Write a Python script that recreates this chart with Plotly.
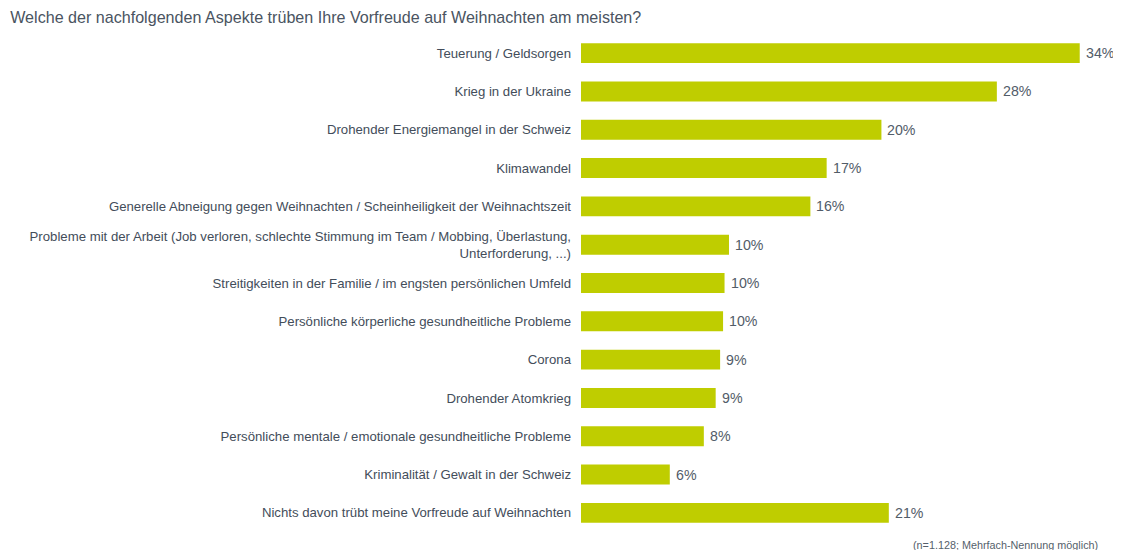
import plotly.graph_objects as go

# Anteile in %
aspekte = [
    "Teuerung / Geldsorgen",
    "Krieg in der Ukraine",
    "Drohender Energiemangel in der Schweiz",
    "Klimawandel",
    "Generelle Abneigung gegen Weihnachten / Scheinheiligkeit der Weihnachtszeit",
    "Probleme mit der Arbeit (Job verloren, schlechte Stimmung im Team / Mobbing, Überlastung,<br>Unterforderung, ...)",
    "Streitigkeiten in der Familie / im engsten persönlichen Umfeld",
    "Persönliche körperliche gesundheitliche Probleme",
    "Corona",
    "Drohender Atomkrieg",
    "Persönliche mentale / emotionale gesundheitliche Probleme",
    "Kriminalität / Gewalt in der Schweiz",
    "Nichts davon trübt meine Vorfreude auf Weihnachten",
]
werte = [33.7, 28.1, 20.3, 16.6, 15.5, 10.0, 9.7, 9.6, 9.4, 9.1, 8.3, 6.0, 20.8]
beschriftung = ["34%", "28%", "20%", "17%", "16%", "10%", "10%", "10%", "9%", "9%", "8%", "6%", "21%"]

TEXT = "#434d5a"
FONT = "Liberation Sans, Arial, sans-serif"

fig = go.Figure()
fig.add_trace(go.Bar(
    x=werte,
    y=aspekte,
    orientation="h",
    marker=dict(color="#bfcd00", line=dict(width=0)),
    width=0.52,
    hoverinfo="skip",
))

# Prozentwerte rechts neben den Balken
for a, w, t in zip(aspekte, werte, beschriftung):
    fig.add_annotation(x=w, y=a, text=t, showarrow=False, xanchor="left",
                       xshift=4, font=dict(size=14.2, color="#525c68", family=FONT))

fig.add_annotation(text="(n=1.128; Mehrfach-Nennung möglich)", xref="paper", yref="paper",
                   x=1, y=0, xanchor="right", yanchor="top", yshift=-5, showarrow=False,
                   font=dict(size=10.8, color="#555f6b", family=FONT))

# die Seite hat 8px Rand, daher 1113x542
fig.update_layout(
    width=1113,
    height=542,
    margin=dict(l=573, r=21, t=26, b=18, autoexpand=False),
    paper_bgcolor="white",
    plot_bgcolor="white",
    showlegend=False,
    font=dict(family=FONT, color=TEXT, size=13),
    title=dict(text="Welche der nachfolgenden Aspekte trüben Ihre Vorfreude auf Weihnachten am meisten?",
               x=0.002, xanchor="left", y=0.9834, yanchor="middle",
               font=dict(size=16.1, color="#4a5461", family=FONT)),
    xaxis=dict(range=[0, 35.07], visible=False, fixedrange=True),
    yaxis=dict(autorange="reversed", showgrid=False, zeroline=False, showline=False,
               ticks="", ticklabelstandoff=9, tickfont=dict(size=13.2, color=TEXT)),
)

fig.write_html("out.html")
